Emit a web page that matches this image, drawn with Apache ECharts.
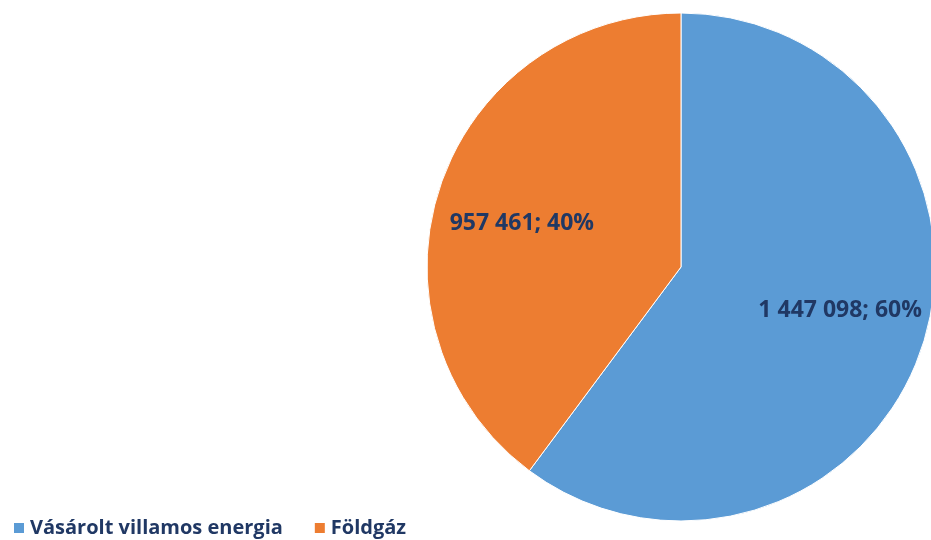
<!DOCTYPE html>
<html>
<head>
<meta charset="utf-8">
<script src="https://cdn.jsdelivr.net/npm/echarts@6/dist/echarts.min.js"></script>
<style>
  html, body { margin: 0; padding: 0; background: #fff; }
  #chart { width: 931px; height: 540px; }
</style>
</head>
<body>
<div id="chart"></div>
<script>
const categories = ['Vásárolt villamos energia', 'Földgáz'];
const values = [1447098, 957461];
const colors = ['#5B9BD5', '#ED7D31'];

const chart = echarts.init(document.getElementById('chart'));

const fmt = n => String(n).replace(/\B(?=(\d{3})+(?!\d))/g, ' ');
const total = values.reduce((a, b) => a + b, 0);
const pieData = categories.map((name, i) => ({
  name,
  value: values[i],
  itemStyle: { color: colors[i] }
}));

const labelFont = '"Open Sans", "Noto Sans", sans-serif';

chart.setOption({
  animation: false,
  legend: {
    left: 7,
    bottom: -3,
    itemWidth: 12,
    itemHeight: 12,
    itemGap: 30,
    icon: 'rect',
    data: categories,
    textStyle: { color: '#203864', fontWeight: 'bold', fontSize: 20, fontFamily: labelFont }
  },
  series: [
    {
      type: 'pie',
      center: [681, 267],
      radius: 254,
      startAngle: 90,
      clockwise: true,
      silent: true,
      label: { show: false },
      labelLine: { show: false },
      itemStyle: { borderColor: '#fff', borderWidth: 1 },
      data: pieData
    },
    {
      type: 'pie',
      center: [681, 267],
      radius: [70, 254],
      startAngle: 93,
      clockwise: true,
      silent: true,
      legendHoverLink: false,
      itemStyle: { color: 'transparent' },
      label: {
        show: true,
        position: 'inside',
        color: '#203864',
        fontWeight: 'bold',
        fontSize: 23,
        fontFamily: labelFont,
        formatter: p => fmt(p.value) + '; ' + Math.round(p.value / total * 100) + '%'
      },
      labelLine: { show: false },
      data: categories.map((name, i) => ({ name: name + ' ', value: values[i] }))
    }
  ]
});
</script>
</body>
</html>
